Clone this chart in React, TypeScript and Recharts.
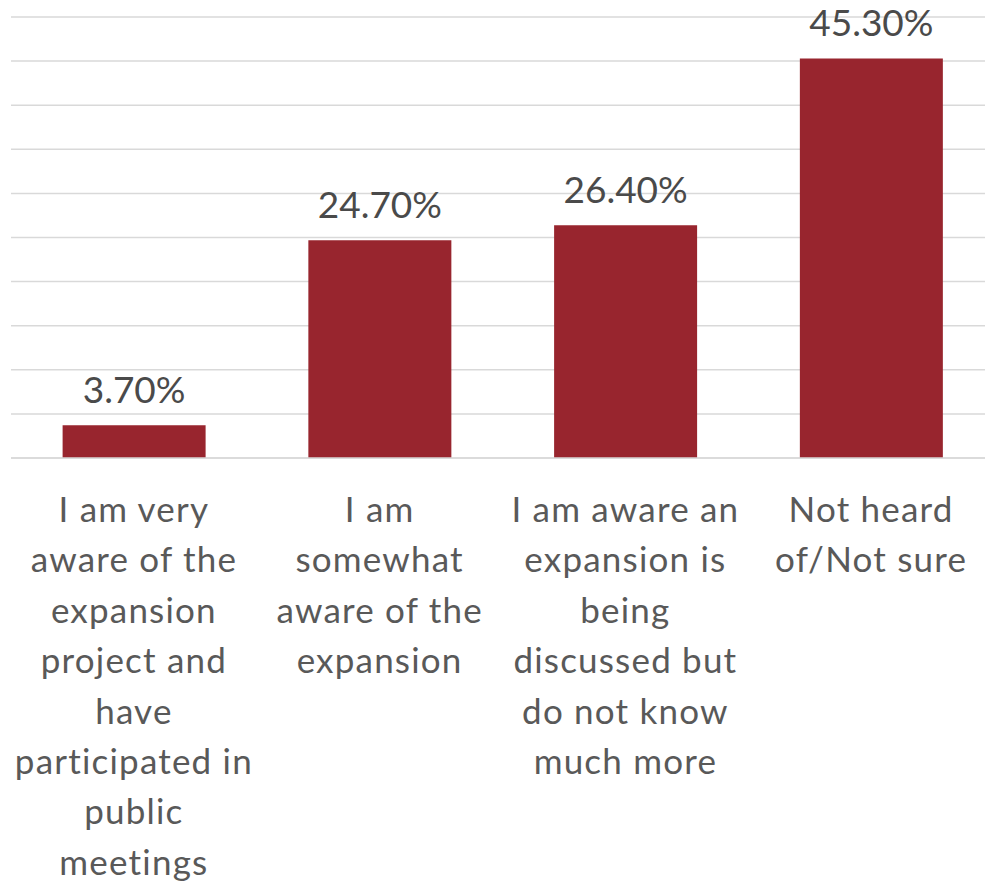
import { Bar, BarChart, CartesianGrid, LabelList, XAxis, YAxis } from "recharts"

const categories = [
  "I am very\naware of the\nexpansion\nproject and\nhave\nparticipated in\npublic\nmeetings",
  "I am\nsomewhat\naware of the\nexpansion",
  "I am aware an\nexpansion is\nbeing\ndiscussed but\ndo not know\nmuch more",
  "Not heard\nof/Not sure",
]
const shares = [3.7, 24.7, 26.4, 45.3]
const yTicks = [0, 5, 10, 15, 20, 25, 30, 35, 40, 45, 50]

const data = categories.map((label, i) => ({ label, value: shares[i] }))

const FONT = "Lato, 'Noto Sans', sans-serif"

function CategoryTick({ x, y, payload }: any) {
  const lines = String(payload.value).split("\n")
  return (
    <text
      x={x}
      y={y}
      textAnchor="middle"
      fill="#595959"
      fontSize={35}
      letterSpacing={1.2}
      fontFamily={FONT}
    >
      {lines.map((line, i) => (
        <tspan key={i} x={x} dy={i === 0 ? 56 : 50.4}>
          {line}
        </tspan>
      ))}
    </text>
  )
}

export default function App() {
  return (
    <div style={{ position: "absolute", left: 0, top: 0, width: 985, height: 885, overflow: "hidden", background: "#fff" }}>
      <BarChart
        width={994}
        height={885}
        data={data}
        margin={{ top: 17, right: 0, bottom: 7, left: 11 }}
        barCategoryGap="21%"
      >
        <CartesianGrid vertical={false} stroke="#D9D9D9" strokeWidth={1.5} />
        <YAxis hide domain={[0, 50]} ticks={yTicks} />
        <XAxis
          dataKey="label"
          height={420}
          interval={0}
          tickLine={false}
          axisLine={{ stroke: "#D9D9D9", strokeWidth: 1.5 }}
          tick={<CategoryTick />}
        />
        <Bar dataKey="value" fill="#98252E" isAnimationActive={false}>
          <LabelList
            dataKey="value"
            position="top"
            offset={22}
            fill="#4a4a4a"
            fontSize={37}
            fontFamily={FONT}
            formatter={(v: any) => `${Number(v).toFixed(2)}%`}
          />
        </Bar>
      </BarChart>
    </div>
  )
}
